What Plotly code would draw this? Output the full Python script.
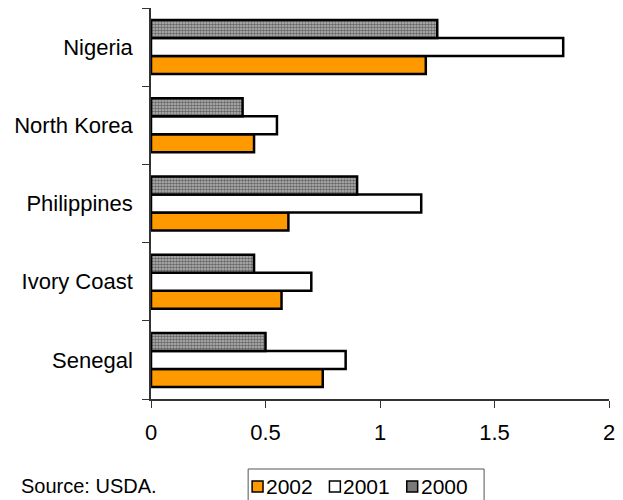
import plotly.graph_objects as go

countries = ["Senegal", "Ivory Coast", "Philippines", "North Korea", "Nigeria"]
v2002 = [0.75, 0.57, 0.60, 0.45, 1.20]
v2001 = [0.85, 0.70, 1.18, 0.55, 1.80]
v2000 = [0.50, 0.45, 0.90, 0.40, 1.25]
x_ticks = [0, 0.5, 1, 1.5, 2]
x_tick_labels = ["0", "0.5", "1", "1.5", "2"]
years = ["2002", "2001", "2000"]
year_colors = ["#FF9900", "white", "#7a7a7a"]

FONT = "Liberation Sans, Arial, sans-serif"
W, H = 623, 500
ML, MR, MT, MB = 151, 10, 8, 101
PW, PH = W - ML - MR, H - MT - MB

def px(x):
    return (x - ML) / PW

def py(y):
    return (H - MB - y) / PH

line = dict(color="black", width=2.5)

fig = go.Figure()
fig.add_trace(go.Bar(y=countries, x=v2002, name=years[0], orientation="h",
                     marker=dict(color=year_colors[0], line=line)))
fig.add_trace(go.Bar(y=countries, x=v2001, name=years[1], orientation="h",
                     marker=dict(color=year_colors[1], line=line)))
fig.add_trace(go.Bar(y=countries, x=v2000, name=years[2], orientation="h",
                     marker=dict(color="#c4c4c4", line=line,
                                 pattern=dict(shape=".", fgcolor="#111111",
                                              bgcolor="#bcbcbc", size=3, solidity=0.6))))

# legend box drawn below the plot: frame, swatches and year labels
shapes = [dict(type="rect", xref="paper", yref="paper",
               x0=px(249), x1=px(487), y0=py(503), y1=py(469),
               line=dict(color="#555555", width=1), fillcolor="white")]
annotations = [dict(text="Source: USDA.", xref="paper", yref="paper",
                    x=px(18), y=py(486), xanchor="left", yanchor="middle",
                    showarrow=False, font=dict(size=20))]
for i, (yr, col) in enumerate(zip(years, year_colors)):
    sx = 253 + 78 * i
    shapes.append(dict(type="rect", xref="paper", yref="paper",
                       x0=px(sx), x1=px(sx + 11), y0=py(492), y1=py(481),
                       line=dict(color="black", width=1.5), fillcolor=col))
    annotations.append(dict(text=yr, xref="paper", yref="paper",
                            x=px(sx + 12), y=py(486), xanchor="left", yanchor="middle",
                            showarrow=False, font=dict(size=21)))

fig.update_layout(
    width=W, height=H,
    barmode="group", bargap=0.31, bargroupgap=0,
    plot_bgcolor="white", paper_bgcolor="white",
    margin=dict(l=ML, r=MR, t=MT, b=MB),
    font=dict(family=FONT, size=22, color="black"),
    showlegend=False,
    shapes=shapes,
    annotations=annotations,
)
fig.update_xaxes(range=[0, 2], tickvals=x_ticks, ticktext=x_tick_labels,
                 showgrid=False, zeroline=False, showline=True, linecolor="#333333",
                 linewidth=1.5, ticks="outside", ticklen=7, tickcolor="#333333",
                 tickfont=dict(size=22), ticklabelstandoff=6)
fig.update_yaxes(categoryorder="array", categoryarray=countries,
                 showgrid=False, zeroline=False, showline=True, linecolor="#333333",
                 linewidth=1.5, ticks="outside", ticklen=7, tickcolor="#333333",
                 tickson="boundaries", ticklabelstandoff=12, tickfont=dict(size=22))

fig.write_html("out.html")
